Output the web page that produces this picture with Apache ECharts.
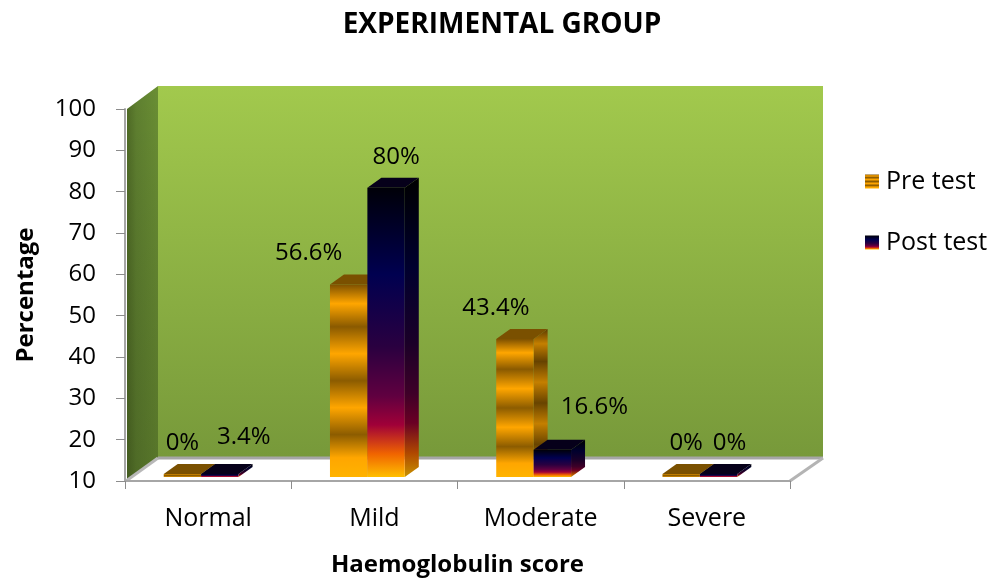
<!DOCTYPE html>
<html>
<head>
<meta charset="utf-8">
<script src="https://cdn.jsdelivr.net/npm/echarts@6/dist/echarts.min.js"></script>
<style>
  html, body { margin: 0; padding: 0; background: #ffffff; }
  #chart { width: 1004px; height: 584px; }
</style>
</head>
<body>
<div id="chart"></div>
<script>
// Haemoglobulin score distribution, experimental group (percent)
const categories = ['Normal', 'Mild', 'Moderate', 'Severe'];
const preTest = [0, 56.6, 43.4, 0];
const postTest = [3.4, 80, 16.6, 0];
const yMin = 10, yMax = 100, yStep = 10;

// label nudges (px) so the value labels sit clear of neighbouring bars
const preLabelNudge = [[0, 0], [-40, 0], [-19, 0], [5, 0]];
const postLabelNudge = [[24, -6], [10, 0], [42, -12], [11, 0]];

const FONT = '"Open Sans", "Noto Sans", sans-serif';
const WALL_DX = 33, WALL_DY = -23;   // depth of the chart box
const BAR_DX = 14, BAR_DY = -10;     // depth of each bar
const BAR_W = 0.225;                 // bar width as share of a category band
const PAIR_SHIFT = -7;               // pair offset so the solid bars look centred
const BAR_LIFT = 4;                  // bars stand slightly behind the front edge
const MIN_SLAB = 3;                  // thickness of bars at or below the floor
const LABEL_DY = -31;

const G = echarts.graphic;
function grad(stops) {
  return new G.LinearGradient(0, 0, 0, 1, stops.map(s => ({ offset: s[0], color: s[1] })));
}

const preStops = [
  [0, '#7d5000'], [0.1, '#ffa600'], [0.22, '#8a5a00'], [0.36, '#ffa600'],
  [0.5, '#8c5c00'], [0.64, '#ffa600'], [0.78, '#8c5c00'], [0.9, '#ffa600'], [1, '#ffb300']
];
const preSideStops = [
  [0, '#5c3b00'], [0.1, '#c47f00'], [0.22, '#664200'], [0.36, '#c47f00'],
  [0.5, '#684400'], [0.64, '#c47f00'], [0.78, '#684400'], [0.9, '#c47f00'], [1, '#d08a00']
];
const postStops = [
  [0, '#000008'], [0.3, '#000050'], [0.55, '#2a0040'], [0.72, '#600040'],
  [0.82, '#a00038'], [0.92, '#f06400'], [1, '#ffbf00']
];
const postSideStops = [
  [0, '#000000'], [0.3, '#00002e'], [0.55, '#1a0028'], [0.72, '#3e0028'],
  [0.82, '#6a0024'], [0.92, '#b04800'], [1, '#c89200']
];

function barRenderer(isPre, frontStops, sideStops, topColor, nudges) {
  return function (params, api) {
    const ci = api.value(0);
    const v = api.value(1);
    const band = api.size([1, 0])[0];
    const base = api.coord([ci, yMin]);
    const top = api.coord([ci, Math.max(v, yMin)]);
    const w = band * BAR_W;
    const cx = base[0] + PAIR_SHIFT;
    const x0 = isPre ? cx - w : cx;
    const x1 = x0 + w;
    const yb = base[1] - BAR_LIFT;
    let yt = top[1] - BAR_LIFT;
    if (yb - yt < MIN_SLAB) yt = yb - MIN_SLAB;
    const n = nudges[params.dataIndex] || [0, 0];
    return {
      type: 'group',
      children: [
        {
          type: 'polygon',
          shape: { points: [[x1, yt], [x1 + BAR_DX, yt + BAR_DY], [x1 + BAR_DX, yb + BAR_DY], [x1, yb]] },
          style: { fill: grad(sideStops) }
        },
        {
          type: 'polygon',
          shape: { points: [[x0, yt], [x0 + BAR_DX, yt + BAR_DY], [x1 + BAR_DX, yt + BAR_DY], [x1, yt]] },
          style: { fill: topColor }
        },
        {
          type: 'rect',
          shape: { x: x0, y: yt, width: w, height: yb - yt },
          style: { fill: grad(frontStops) }
        },
        {
          type: 'text',
          x: (x0 + x1) / 2 + n[0],
          y: yt + LABEL_DY + n[1],
          style: {
            text: v + '%',
            fill: '#000000',
            font: '24px ' + FONT,
            align: 'center',
            verticalAlign: 'middle'
          }
        }
      ]
    };
  };
}

function wallRenderer(params, api) {
  const r = params.coordSys;
  const x = r.x, y = r.y, w = r.width, h = r.height;
  const bx = x + WALL_DX, by = y + WALL_DY;
  return {
    type: 'group',
    children: [
      { // back wall
        type: 'rect',
        shape: { x: bx, y: by, width: w, height: h },
        style: { fill: grad([[0, '#a2c94d'], [1, '#77993a']]) }
      },
      { // side wall
        type: 'polygon',
        shape: { points: [[x + 2, y], [bx, by], [bx, by + h], [x + 2, y + h]] },
        style: {
          fill: new G.LinearGradient(0, 0, 1, 0, [
            { offset: 0, color: '#4f6b26' }, { offset: 0.3, color: '#5f8030' }, { offset: 1, color: '#6a8e34' }
          ])
        }
      },
      { // side wall shading toward the floor
        type: 'polygon',
        shape: { points: [[x + 2, y], [bx, by], [bx, by + h], [x + 2, y + h]] },
        style: { fill: grad([[0, 'rgba(0,0,0,0)'], [1, 'rgba(20,30,5,0.22)']]) }
      },
      { // floor
        type: 'polygon',
        shape: { points: [[x, y + h], [bx, by + h], [bx + w, by + h], [x + w, y + h]] },
        style: { fill: '#ffffff' }
      },
      { // back floor edge
        type: 'line',
        shape: { x1: bx, y1: by + h, x2: bx + w, y2: by + h },
        style: { stroke: '#a6a6a6', lineWidth: 3 }
      },
      { // right floor edge
        type: 'line',
        shape: { x1: x + w, y1: y + h, x2: bx + w, y2: by + h },
        style: { stroke: '#b4b4b4', lineWidth: 3 }
      },
      { // left floor edge
        type: 'line',
        shape: { x1: x + 1, y1: y + h, x2: bx, y2: by + h },
        style: { stroke: '#b8b8b8', lineWidth: 3 }
      }
    ]
  };
}

const chart = echarts.init(document.getElementById('chart'), null, { renderer: 'canvas' });

chart.setOption({
  animation: false,
  backgroundColor: '#ffffff',
  title: {
    text: 'EXPERIMENTAL GROUP',
    left: 'center',
    top: 6,
    textStyle: { fontFamily: FONT, fontWeight: 'bold', fontSize: 28, color: '#000000' }
  },
  legend: {
    data: ['Pre test', 'Post test'],
    orient: 'vertical',
    left: 860,
    top: 164,
    itemWidth: 14,
    itemHeight: 14,
    itemGap: 36,
    icon: 'rect',
    textStyle: { fontFamily: FONT, fontSize: 25, color: '#000000', padding: [0, 0, 0, 2] }
  },
  grid: { left: 125, right: 214, top: 109, bottom: 103, containLabel: false, outerBoundsMode: 'none' },
  xAxis: {
    type: 'category',
    data: categories,
    name: 'Haemoglobulin score',
    nameLocation: 'middle',
    nameGap: 72,
    nameTextStyle: { fontFamily: FONT, fontWeight: 'bold', fontSize: 24, color: '#000000' },
    axisLine: { show: true, lineStyle: { color: '#a6a6a6', width: 2 } },
    axisTick: { show: true, length: 8, lineStyle: { color: '#8c8c8c' } },
    axisLabel: { margin: 25, fontFamily: FONT, fontSize: 25, color: '#000000' },
    splitLine: { show: false }
  },
  yAxis: {
    type: 'value',
    min: yMin,
    max: yMax,
    interval: yStep,
    name: 'Percentage',
    nameLocation: 'middle',
    nameRotate: 90,
    nameGap: 87,
    nameTextStyle: { fontFamily: FONT, fontWeight: 'bold', fontSize: 24, color: '#000000' },
    axisLine: { show: true, lineStyle: { color: '#a6a6a6', width: 2 } },
    axisTick: { show: true, length: 9, lineStyle: { color: '#8c8c8c' } },
    axisLabel: { margin: 29, fontFamily: FONT, fontSize: 24, color: '#000000' },
    splitLine: { show: false }
  },
  series: [
    {
      name: 'walls',
      type: 'custom',
      z: -1,
      silent: true,
      renderItem: wallRenderer,
      data: [[0, yMin]]
    },
    {
      name: 'Pre test',
      type: 'custom',
      z: 3,
      itemStyle: { color: grad(preStops) },
      renderItem: barRenderer(true, preStops, preSideStops, '#7a5000', preLabelNudge),
      data: preTest.map((v, i) => [i, v])
    },
    {
      name: 'Post test',
      type: 'custom',
      z: 4,
      itemStyle: { color: grad(postStops) },
      renderItem: barRenderer(false, postStops, postSideStops, '#06001a', postLabelNudge),
      data: postTest.map((v, i) => [i, v])
    }
  ]
});
</script>
</body>
</html>
